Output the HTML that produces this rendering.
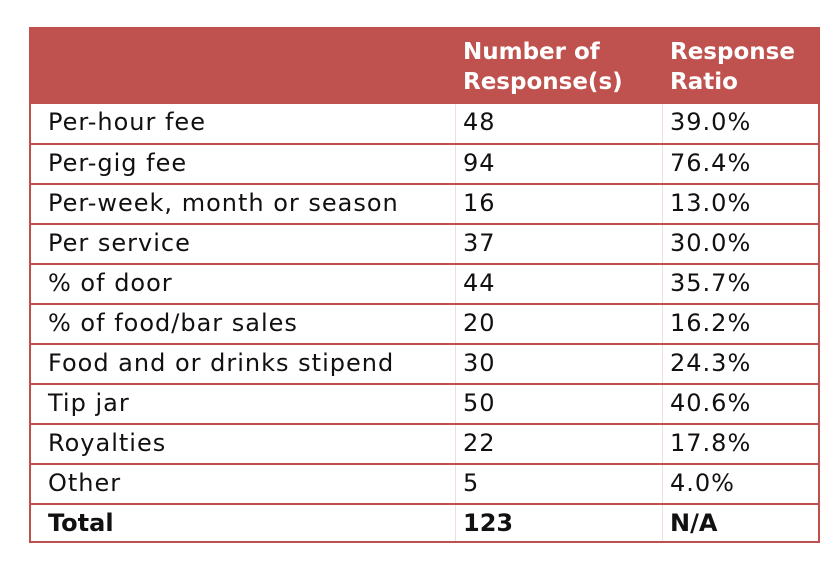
<!DOCTYPE html>
<html><head><style>
body{margin:0;width:834px;height:562px;background:#fff;position:relative;font-family:"DejaVu Sans","Liberation Sans",sans-serif;overflow:hidden}
.t{position:absolute;left:29px;top:27px;width:787px;height:512px;border:2px solid #c0504d;box-sizing:content-box}
.h{position:absolute;left:0;top:0;width:787px;height:75px;background:#bf514e}
.ht{position:absolute;color:#fff;font-weight:bold;font-size:23px;line-height:30px}
.r{position:absolute;left:0;width:787px;height:40px;border-top:2px solid #c0504d;box-sizing:border-box}
.c{position:absolute;top:0;font-size:24px;line-height:37px;color:#111;letter-spacing:1px;white-space:nowrap}
.v{position:absolute;top:75px;width:1px;height:437px;background:#f0dede}
</style></head><body>
<div class="t">
<div class="h"></div>
<div class="ht" style="left:432px;top:8px">Number of<br>Response(s)</div>
<div class="ht" style="left:639px;top:8px">Response<br>Ratio</div>
<div class="v" style="left:424px"></div>
<div class="v" style="left:631px"></div>
<div class="r" style="top:75px;border-top:none"><span class="c" style="left:17px">Per-hour fee</span><span class="c" style="left:432px">48</span><span class="c" style="left:639px">39.0%</span></div>
<div class="r" style="top:114px"><span class="c" style="left:17px">Per-gig fee</span><span class="c" style="left:432px">94</span><span class="c" style="left:639px">76.4%</span></div>
<div class="r" style="top:154px"><span class="c" style="left:17px">Per-week, month or season</span><span class="c" style="left:432px">16</span><span class="c" style="left:639px">13.0%</span></div>
<div class="r" style="top:194px"><span class="c" style="left:17px">Per service</span><span class="c" style="left:432px">37</span><span class="c" style="left:639px">30.0%</span></div>
<div class="r" style="top:234px"><span class="c" style="left:17px">% of door</span><span class="c" style="left:432px">44</span><span class="c" style="left:639px">35.7%</span></div>
<div class="r" style="top:274px"><span class="c" style="left:17px">% of food/bar sales</span><span class="c" style="left:432px">20</span><span class="c" style="left:639px">16.2%</span></div>
<div class="r" style="top:314px"><span class="c" style="left:17px">Food and or drinks stipend</span><span class="c" style="left:432px">30</span><span class="c" style="left:639px">24.3%</span></div>
<div class="r" style="top:354px"><span class="c" style="left:17px">Tip jar</span><span class="c" style="left:432px">50</span><span class="c" style="left:639px">40.6%</span></div>
<div class="r" style="top:394px"><span class="c" style="left:17px">Royalties</span><span class="c" style="left:432px">22</span><span class="c" style="left:639px">17.8%</span></div>
<div class="r" style="top:434px"><span class="c" style="left:17px">Other</span><span class="c" style="left:432px">5</span><span class="c" style="left:639px">4.0%</span></div>
<div class="r" style="top:474px;height:38px"><span class="c" style="left:17px;font-weight:bold;letter-spacing:0">Total</span><span class="c" style="left:432px;font-weight:bold;letter-spacing:0">123</span><span class="c" style="left:639px;font-weight:bold;letter-spacing:0">N/A</span></div>
</div>
</body></html>
